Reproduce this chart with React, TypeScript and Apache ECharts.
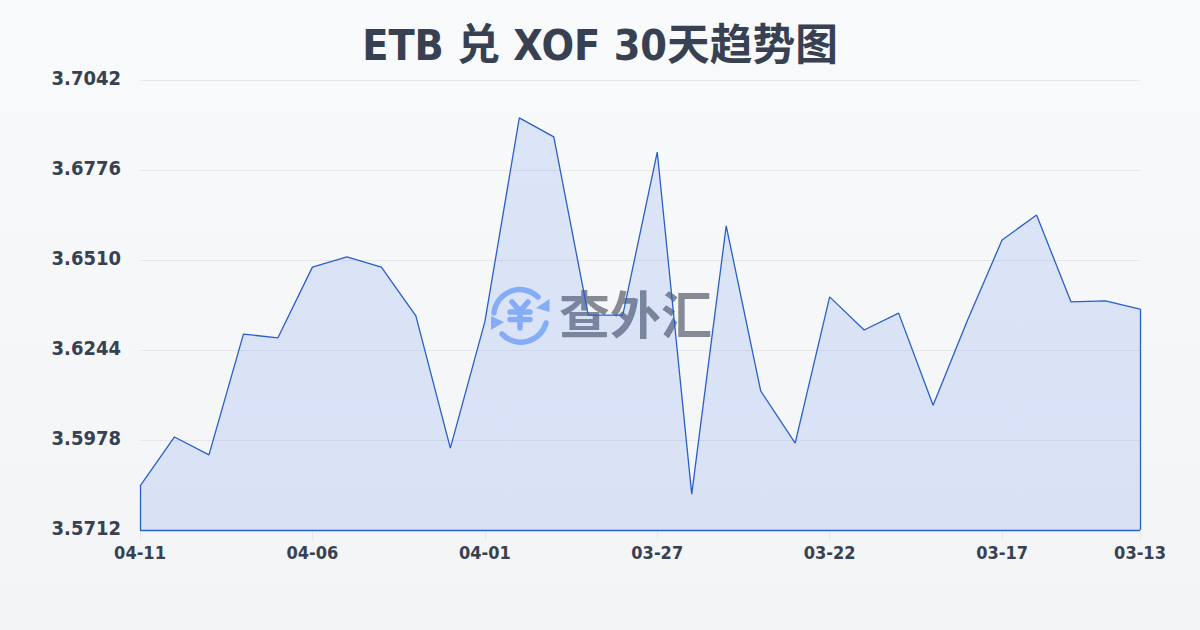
import React, { useEffect, useRef } from "react";
import * as echarts from "echarts";

const titleText = "ETB 兑 XOF 30天趋势图";
const watermarkText = "查外汇";
const categories = [
  "04-11", "04-10", "04-09", "04-08", "04-07", "04-06", "04-05", "04-04", "04-03", "04-02",
  "04-01", "03-31", "03-30", "03-29", "03-28", "03-27", "03-26", "03-25", "03-24", "03-23",
  "03-22", "03-21", "03-20", "03-19", "03-18", "03-17", "03-16", "03-15", "03-14", "03-13",
];
const rates = [
  3.5842, 3.5987, 3.5934, 3.6291, 3.628, 3.6489, 3.6519, 3.6489, 3.6345, 3.5954,
  3.6327, 3.693, 3.6874, 3.6347, 3.6347, 3.6829, 3.5818, 3.6611, 3.6123, 3.5969,
  3.6401, 3.6303, 3.6353, 3.6081, 3.6333, 3.6569, 3.6643, 3.6386, 3.6389, 3.6365,
];
const yTicks = [3.5712, 3.5978, 3.6244, 3.651, 3.6776, 3.7042];
const xTickIndexes = [0, 5, 10, 15, 20, 25, 29];

const FONT = '"DejaVu Sans Condensed", "Noto Sans CJK SC", sans-serif';
const INK = "#374151";
const LINE = "#2a5fc9";

echarts.graphic.registerShape("fxArcs", echarts.graphic.extendPath(
  "M9 33 A26 26 0 0 1 53 17 M61 43 A26 26 0 0 1 17 54", {}));
echarts.graphic.registerShape("fxHeads", echarts.graphic.extendPath(
  "M64.5 19 L64.5 32 L51 28 Z M6 36 L6 50 L19 42 Z", {}));
echarts.graphic.registerShape("fxYen", echarts.graphic.extendPath(
  "M27 22 L35 31 L43 22 M25 32 L45 32 M25 39.5 L45 39.5 M35 31 L35 48", {}));

export default function App() {
  const ref = useRef<HTMLDivElement>(null);
  useEffect(() => {
    const chart = echarts.init(ref.current!, null, { renderer: "svg" });
    const base = yTicks[0];
    const last = categories.length - 1;
    const stroke = { fill: "none", stroke: "#93b9fa", lineWidth: 5.5, lineCap: "round" };
    chart.setOption({
      animation: false,
      backgroundColor: {
        type: "linear", x: 0, y: 0, x2: 0, y2: 1,
        colorStops: [{ offset: 0, color: "#f8fafc" }, { offset: 1, color: "#f3f4f6" }],
      },
      title: {
        text: titleText,
        left: "center",
        top: 19,
        textStyle: { fontFamily: FONT, fontSize: 42.7, fontWeight: "bold", color: INK },
      },
      grid: { left: 140, right: 60, top: 80, bottom: 100 },
      xAxis: {
        type: "category",
        data: categories,
        boundaryGap: false,
        axisLine: { show: false },
        axisTick: { show: true, length: 10, lineStyle: { color: "#e5e7eb" }, customValues: xTickIndexes },
        axisLabel: {
          customValues: xTickIndexes,
          fontFamily: FONT, fontSize: 18, fontWeight: "bold", color: INK, margin: 13,
        },
        splitLine: { show: false },
      },
      yAxis: {
        type: "value",
        min: yTicks[0],
        max: yTicks[yTicks.length - 1],
        axisLine: { show: false },
        axisTick: { show: false, customValues: yTicks },
        axisLabel: {
          customValues: yTicks,
          formatter: (v: number) => v.toFixed(4),
          fontFamily: FONT, fontSize: 20, fontWeight: "bold", color: INK, margin: 19,
          verticalAlign: "bottom",
          lineHeight: 4,
        },
        splitLine: { show: true, lineStyle: { color: "#e5e7eb", width: 1 } },
      },
      graphic: [
        {
          type: "group", x: 485, y: 280, z: 10, silent: true,
          children: [
            { type: "fxArcs", style: stroke },
            { type: "fxHeads", style: { fill: "#93b9fa" } },
            { type: "fxYen", style: stroke },
          ],
        },
        {
          type: "text", x: 559, y: 286, z: 10, silent: true,
          style: {
            text: watermarkText,
            font: 'bold 51px "Noto Sans CJK SC", sans-serif',
            fill: "#858a94",
          },
        },
      ],
      series: [
        {
          type: "line",
          data: rates,
          z: 20,
          symbol: "none",
          smooth: false,
          lineStyle: { color: LINE, width: 1.3 },
          areaStyle: { color: "rgba(42,95,230,0.19)", origin: "start" },
          markLine: {
            silent: true,
            symbol: "none",
            label: { show: false },
            lineStyle: { color: LINE, width: 1.3, type: "solid" },
            data: [
              [{ coord: [0, base] }, { coord: [0, rates[0]] }],
              [{ coord: [0, base] }, { coord: [last, base] }],
              [{ coord: [last, base] }, { coord: [last, rates[last]] }],
            ],
          },
        },
      ],
    });
    return () => chart.dispose();
  }, []);
  return <div ref={ref} style={{ position: "fixed", left: 0, top: 0, width: 1200, height: 630 }} />;
}
